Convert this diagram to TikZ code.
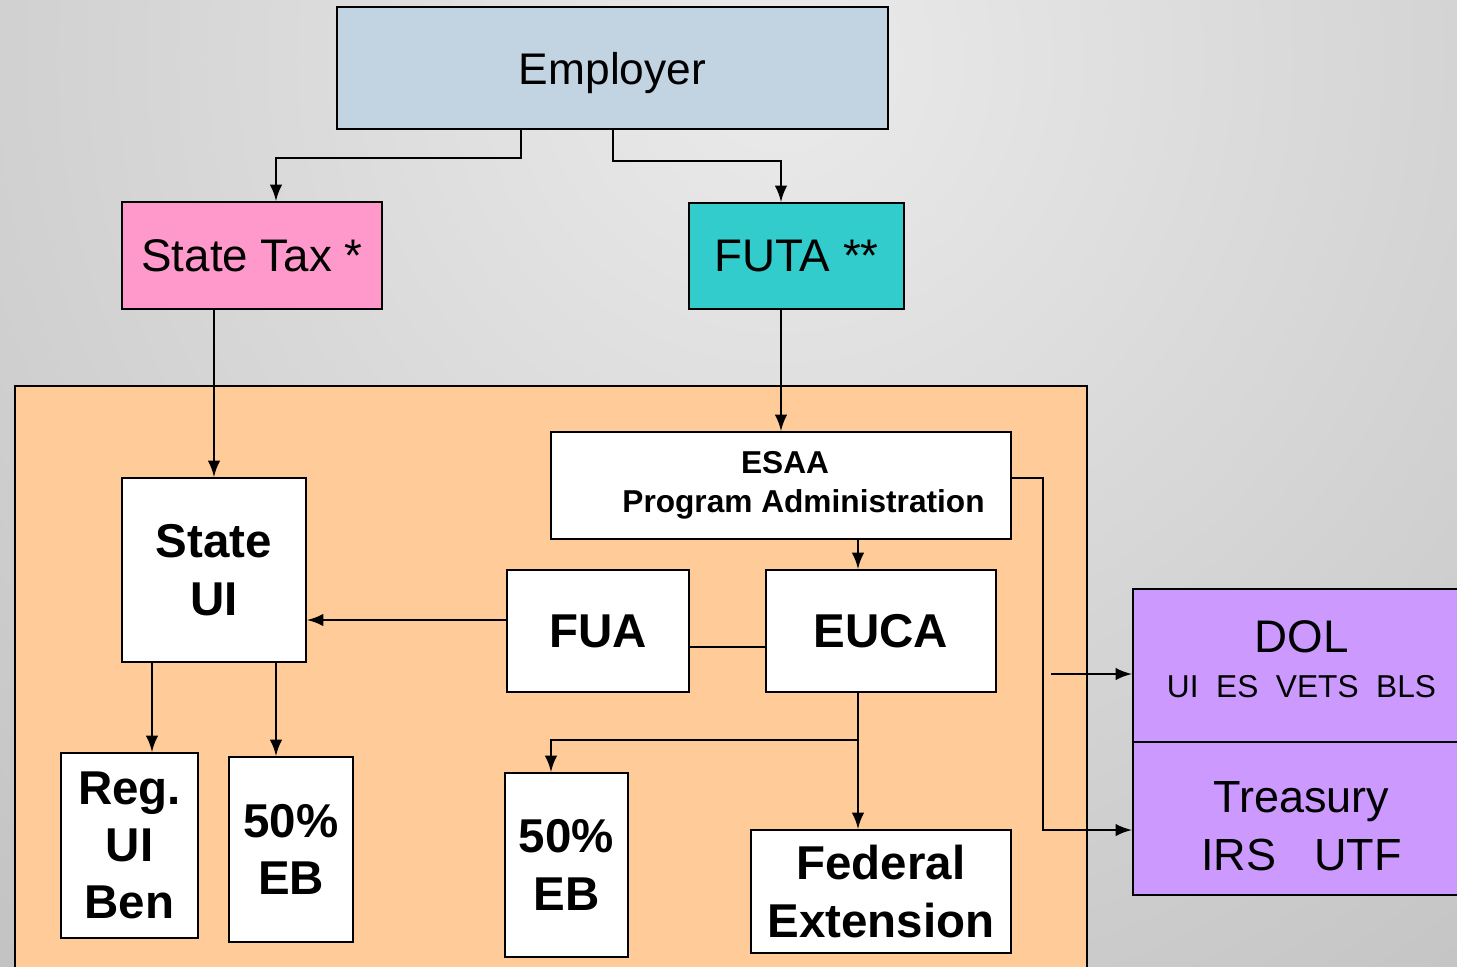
\documentclass[tikz,border=0pt]{standalone}
\usepackage{fontspec}
\setmainfont{Liberation Sans}
\usetikzlibrary{arrows}

\definecolor{employerblue}{RGB}{194,211,226}
\definecolor{taxpink}{RGB}{255,153,204}
\definecolor{futateal}{RGB}{51,204,204}
\definecolor{panelorange}{RGB}{255,204,153}
\definecolor{dolpurple}{RGB}{204,153,255}

\tikzset{
  box/.style={draw=black, line width=0.6pt, fill=white, inner sep=0pt, align=center},
  bigtext/.style={font=\fontsize{13}{16.3}\selectfont, text depth=0pt},
  boldtext/.style={font=\fontsize{13.5}{16.3}\selectfont\bfseries},
  link/.style={line width=0.6pt, -latex}
}

\begin{document}
\begin{tikzpicture}[x=0.01cm, y=-0.01cm]
        \useasboundingbox (0,0) rectangle (1457,966);
        \clip (0,0) rectangle (1457,966);
        \shade[inner color=black!8, outer color=black!42] (780,60) circle (26cm); % background
        \draw[fill=panelorange, line width=0.6pt] (15,386) rectangle (1087,990); % edit here for the panel
        \node[box, fill=employerblue, minimum width=5.51cm, minimum height=1.22cm, bigtext, font=\fontsize{12.6}{15}\selectfont] (employer) at (612.5,68) {Employer};
        \node[box, fill=taxpink, minimum width=2.6cm, minimum height=1.07cm, bigtext] (statetax) at (252,255.5) {State Tax *};
        \node[box, fill=futateal, minimum width=2.15cm, minimum height=1.06cm, bigtext] (futa) at (796.5,256) {FUTA **};
        \node[box, minimum width=4.6cm, minimum height=1.07cm, font=\fontsize{9}{11}\selectfont\bfseries] (esaa) at (781,485.5) {\hspace*{0.08cm}ESAA\\\hspace*{0.45cm}Program Administration};
        \node[box, minimum width=1.82cm, minimum height=1.22cm, boldtext] (fua) at (598,631) {FUA};
        \node[box, minimum width=2.3cm, minimum height=1.22cm, boldtext] (euca) at (881,631) {EUCA};
        \node[box, minimum width=1.84cm, minimum height=1.84cm, boldtext] (stateui) at (214,570) {State\\UI};
        \node[box, minimum width=1.37cm, minimum height=1.85cm, boldtext] (regui) at (129.5,845.5) {Reg.\\UI\\Ben};
        \node[box, minimum width=1.24cm, minimum height=1.85cm, boldtext] (ebleft) at (291,849.5) {50\%\\EB};
        \node[box, minimum width=1.23cm, minimum height=1.84cm, boldtext] (ebmid) at (566.5,865) {50\%\\EB};
        \node[box, minimum width=2.6cm, minimum height=1.23cm, boldtext] (fedext) at (881,891.5) {Federal\\Extension};
        \node[box, fill=dolpurple, minimum width=3.37cm, minimum height=1.53cm, font=\fontsize{13}{12.8}\selectfont, text depth=0.12cm] (dol) at (1301.5,665.5) {DOL\\{\fontsize{9}{12.8}\selectfont UI\ \ ES\ \ VETS\ \ BLS}};
        \node[box, fill=dolpurple, minimum width=3.37cm, minimum height=1.53cm, font=\fontsize{12.8}{16.5}\selectfont] (treasury) at (1301.5,818.5) {\rule{0pt}{0.46cm}Treasury\\IRS\ \ \ UTF};
        \coordinate (dolfeed) at (1051,674);
        % edit here for the connectors
        \draw[link] ([xshift=-0.915cm]employer.south) -- ++(0,28) -| ([xshift=0.24cm]statetax.north);
        \draw[link] ([xshift=0.005cm]employer.south) -- ++(0,31) -| ([xshift=-0.155cm]futa.north);
        \draw[link] (statetax.south -| stateui.north) -- (stateui.north);
        \draw[link] (futa.south -| esaa.north) -- (esaa.north);
        \draw[link] ([xshift=-0.23cm]euca.north |- esaa.south) -- ([xshift=-0.23cm]euca.north);
        \draw[link] ([yshift=0.11cm]fua.west) -- ([yshift=0.11cm]fua.west -| stateui.east);
        \draw[line width=0.6pt] ([yshift=-0.16cm]fua.east) -- ([yshift=-0.16cm]fua.east -| euca.west);
        \draw[link] ([xshift=0.225cm]regui.north |- stateui.south) -- ([xshift=0.225cm]regui.north);
        \draw[link] ([xshift=-0.15cm]ebleft.north |- stateui.south) -- ([xshift=-0.15cm]ebleft.north);
        \draw[link] ([xshift=-0.23cm]fedext.north |- euca.south) -- ([xshift=-0.23cm]fedext.north);
        \draw[link] ([xshift=-0.23cm]euca.south) ++(0,47) -| ([xshift=-0.155cm]ebmid.north);
        \draw[link] ([yshift=0.075cm]esaa.east) -- ++(31,0) |- ([yshift=-0.115cm]treasury.west);
        \draw[link] (dolfeed) -- (dolfeed -| dol.west);
\end{tikzpicture}
\end{document}
